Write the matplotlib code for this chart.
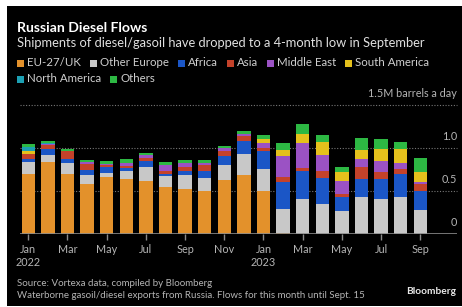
import matplotlib
matplotlib.use('Agg')
import matplotlib.pyplot as plt
from matplotlib.patches import Rectangle
import numpy as np

# months Jan 2022 .. Sep 2023, million barrels a day
months = ['Jan', 'Feb', 'Mar', 'Apr', 'May', 'Jun', 'Jul', 'Aug', 'Sep', 'Oct', 'Nov', 'Dec',
          'Jan', 'Feb', 'Mar', 'Apr', 'May', 'Jun', 'Jul', 'Aug', 'Sep']
years = {0: '2022', 12: '2023'}

eu_uk = [0.70, 0.83, 0.695, 0.58, 0.66, 0.64, 0.61, 0.54, 0.52, 0.50, 0.625, 0.69,
         0.50, 0.015, 0, 0, 0, 0, 0, 0, 0]
other_europe = [0.13, 0.09, 0.13, 0.11, 0.05, 0.095, 0.165, 0.135, 0.16, 0.155, 0.175, 0.24,
                0.25, 0.275, 0.405, 0.35, 0.27, 0.43, 0.41, 0.435, 0.275]
africa = [0.04, 0.07, 0.04, 0.05, 0.07, 0.035, 0.07, 0.02, 0.055, 0.08, 0.105, 0.145,
          0.21, 0.31, 0.325, 0.305, 0.155, 0.21, 0.225, 0.26, 0.225]
asia = [0.06, 0.04, 0.095, 0.07, 0.015, 0.02, 0.04, 0.04, 0.045, 0.07, 0.06, 0.06,
        0.035, 0.065, 0.04, 0.08, 0.04, 0.135, 0.09, 0.06, 0.08]
middle_east = [0.0, 0.01, 0.0, 0.025, 0.015, 0.03, 0.03, 0.06, 0.04, 0.015, 0.035, 0.03,
               0.06, 0.24, 0.28, 0.18, 0.15, 0.095, 0.12, 0.07, 0.025]
south_america = [0.03, 0, 0, 0, 0, 0, 0, 0, 0, 0, 0, 0,
                 0.045, 0.065, 0.11, 0.15, 0.105, 0.11, 0.145, 0.16, 0.115]
north_america = [0.05, 0.01, 0, 0, 0, 0, 0, 0, 0, 0, 0, 0,
                 0, 0, 0, 0, 0, 0, 0, 0, 0]
others = [0.035, 0.025, 0.03, 0.02, 0.04, 0.05, 0.03, 0.035, 0.04, 0.04, 0.025, 0.03,
          0.045, 0.08, 0.12, 0.085, 0.06, 0.13, 0.115, 0.085, 0.165]

series = [
    ('EU-27/UK', eu_uk, '#E3912B'),
    ('Other Europe', other_europe, '#C8C8C8'),
    ('Africa', africa, '#1B56C6'),
    ('Asia', asia, '#C4422A'),
    ('Middle East', middle_east, '#9B52C4'),
    ('South America', south_america, '#E5C11C'),
    ('North America', north_america, '#1CA0B3'),
    ('Others', others, '#2DB843'),
]

plt.rcParams['font.family'] = ['Lato', 'DejaVu Sans']

W, H = 462, 307
fig = plt.figure(figsize=(W / 100, H / 100), dpi=100, facecolor='white')

# black panel behind everything
fig.patches.append(Rectangle((7 / W, 1 / H), 455 / W, 300 / H, transform=fig.transFigure,
                             facecolor='black', edgecolor='none', zorder=-5))

ax = fig.add_axes([20 / W, 1 - 234 / H, 437 / W, (234 - 104.7) / H])
ax.set_facecolor('black')
ax.set_zorder(1)

x = np.arange(len(months))
bottom = np.zeros(len(months))
for name, vals, col in series:
    ax.bar(x, vals, bottom=bottom, width=0.68, color=col, linewidth=0, zorder=3)
    bottom += np.array(vals)

ax.set_xlim(-0.42, 21.87)
ax.set_ylim(0, 1.5)

for s in ax.spines.values():
    s.set_visible(False)

for v in [0.5, 1.0, 1.5]:
    ax.axhline(v, color='#777777', lw=0.8, ls=(0, (1, 1.5)), zorder=1, clip_on=False)
ax.axhline(0, color='#8a8a8a', lw=1.2, zorder=4)

ax.set_yticks([])
ticks = list(range(0, len(months), 2))
ax.set_xticks(ticks)
ax.set_xticklabels([months[i] + ('\n' + years[i] if i in years else '') for i in ticks],
                   fontsize=7.8, color='#b4b4b4', linespacing=1.3)
ax.tick_params(axis='x', length=4, width=1, color='#8a8a8a', pad=3)

ylabels = {0: '0', 0.5: '0.5', 1.0: '1.0', 1.5: '1.5M barrels a day'}
for v, lab in ylabels.items():
    ax.annotate(lab, xy=(1.0, v), xycoords=('axes fraction', 'data'),
                xytext=(0, 4), textcoords='offset points',
                ha='right', va='bottom', fontsize=7.8, color='#b4b4b4')

# titles
fig.text(17 / W, 1 - 32 / H, 'Russian Diesel Flows', fontsize=10.1, fontweight='bold',
         color='white', va='baseline')
fig.text(17 / W, 1 - 47 / H, 'Shipments of diesel/gasoil have dropped to a 4-month low in September',
         fontsize=9.25, color='#e0e0e0', va='baseline')

# legend, two rows, items laid out one after another
renderer = fig.canvas.get_renderer()
rows = [(63, series[:6]), (79, series[6:])]
for ly, items in rows:
    lx = 17
    for name, vals, col in items:
        fig.patches.append(Rectangle((lx / W, 1 - (ly + 3.5) / H), 7 / W, 7 / H,
                                     transform=fig.transFigure, facecolor=col,
                                     edgecolor='none', zorder=2))
        t = fig.text((lx + 10) / W, 1 - ly / H, name, fontsize=8.3, color='#cfcfcf',
                     va='center')
        lx += 10 + t.get_window_extent(renderer).width + 9

# footer
fig.text(17 / W, 1 - 283 / H, 'Source: Vortexa data, compiled by Bloomberg',
         fontsize=7.0, color='#b4b4b4', va='center')
fig.text(17 / W, 1 - 295 / H,
         'Waterborne gasoil/diesel exports from Russia. Flows for this month until Sept. 15',
         fontsize=7.0, color='#b4b4b4', va='center')
fig.text(456 / W, 1 - 292 / H, 'Bloomberg', fontsize=7.3, fontweight='bold',
         color='#e8e8e8', ha='right', va='center')

fig.savefig('out.png', dpi=100, facecolor='white')
